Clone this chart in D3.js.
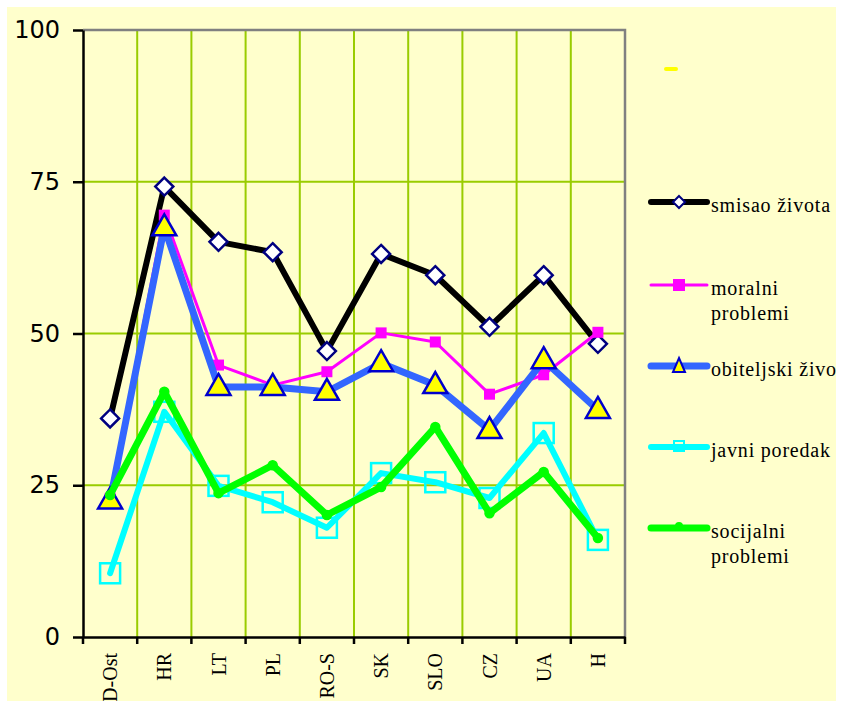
<!DOCTYPE html>
<html>
<head>
<meta charset="utf-8">
<script src="https://cdn.jsdelivr.net/npm/d3@7"></script>
<style>
  body { margin: 0; background: #fff; }
  svg { display: block; }
</style>
</head>
<body>
<svg id="chart" width="842" height="701"></svg>
<script>
// data
var categories = ['D-Ost', 'HR', 'LT', 'PL', 'RO-S', 'SK', 'SLO', 'CZ', 'UA', 'H']
var smisao = [36.0, 74.2, 65.1, 63.4, 47.1, 63.1, 59.6, 51.1, 59.6, 48.3]
var moralni = [22.8, 69.5, 44.8, 41.5, 43.7, 50.1, 48.6, 40.0, 43.2, 50.2]
var obiteljski = [22.5, 67.5, 41.2, 41.2, 40.4, 45.1, 41.5, 34.1, 45.6, 37.4]
var javni = [10.5, 37.1, 24.9, 22.2, 18.0, 27.0, 25.5, 22.9, 33.6, 16.0]
var socijalni = [23.4, 40.4, 23.7, 28.3, 20.1, 24.7, 34.6, 20.4, 27.2, 16.3]
var yTicks = [0, 25, 50, 75, 100]

var series = [
  { name: ['smisao života'], values: smisao, color: '#000000', width: 6, marker: 'diamond', ly: 202 },
  { name: ['moralni', 'problemi'], values: moralni, color: '#ff00ff', width: 3, marker: 'square', ly: 285 },
  { name: ['obiteljski život'], values: obiteljski, color: '#3366ff', width: 7, marker: 'triangle', ly: 366 },
  { name: ['javni poredak'], values: javni, color: '#00ffff', width: 6, marker: 'hollow', ly: 447 },
  { name: ['socijalni', 'problemi'], values: socijalni, color: '#00ff00', width: 7, marker: 'circle', ly: 528 }
]

var svg = d3.select('#chart')
var bg = '#ffffcc'
var grid = '#99cc00'

svg.append('rect').attr('x', 7).attr('y', 7).attr('width', 829).attr('height', 700).attr('fill', bg)

var x = d3.scaleBand().domain(categories).range([83, 625]).padding(0)
var y = d3.scaleLinear().domain([0, 100]).range([637, 30])

// grid lines
svg.append('g').selectAll('line')
  .data([25, 50, 75])
  .enter().append('line')
  .attr('x1', 83).attr('x2', 625)
  .attr('y1', (d) => y(d)).attr('y2', (d) => y(d))
  .attr('stroke', grid).attr('stroke-width', 2)

svg.append('g').selectAll('line')
  .data(categories.slice(1))
  .enter().append('line')
  .attr('x1', (d) => x(d)).attr('x2', (d) => x(d))
  .attr('y1', y(100)).attr('y2', y(0))
  .attr('stroke', grid).attr('stroke-width', 2)

// plot frame top / right
svg.append('path')
  .attr('d', 'M83,' + y(100) + 'H625V' + y(0))
  .attr('fill', 'none').attr('stroke', '#808080').attr('stroke-width', 2.5)

// y axis
var yAxis = svg.append('g')
  .attr('transform', 'translate(83,0)')
  .call(d3.axisLeft(y).tickValues(yTicks).tickSize(10).tickPadding(13).tickSizeOuter(0))
yAxis.select('.domain').attr('stroke', '#000').attr('stroke-width', 2.5)
yAxis.selectAll('.tick line').attr('stroke', '#000').attr('stroke-width', 2.5)
yAxis.selectAll('.tick text')
  .attr('font-family', 'DejaVu Sans, Verdana, sans-serif')
  .attr('font-size', 24)
  .attr('fill', '#000')

// x axis
var xAxis = svg.append('g')
  .attr('transform', 'translate(0,' + y(0) + ')')
  .call(d3.axisBottom(x).tickSize(0).tickSizeOuter(0))
xAxis.select('.domain').attr('stroke', '#000').attr('stroke-width', 2.5)
xAxis.selectAll('.tick text')
  .attr('font-family', 'Liberation Serif, Times New Roman, serif')
  .attr('font-size', 20)
  .attr('fill', '#000')
  .attr('transform', 'rotate(-90)')
  .attr('text-anchor', 'end')
  .attr('x', -16)
  .attr('y', 0)
  .attr('dy', '0.35em')

svg.append('g').selectAll('line')
  .data(categories.map((c) => x(c)).concat([x.range()[1]]))
  .enter().append('line')
  .attr('x1', (d) => d).attr('x2', (d) => d)
  .attr('y1', y(0)).attr('y2', y(0) + 7)
  .attr('stroke', '#000').attr('stroke-width', 2.5)

function drawMarker (g, s, cx, cy) {
  if (s.marker === 'diamond') {
    g.append('path')
      .attr('d', 'M' + cx + ',' + (cy - 9) + 'L' + (cx + 9) + ',' + cy + 'L' + cx + ',' + (cy + 9) + 'L' + (cx - 9) + ',' + cy + 'Z')
      .attr('fill', '#fff').attr('stroke', '#000080').attr('stroke-width', 2.5)
  } else if (s.marker === 'square') {
    g.append('rect').attr('x', cx - 5.5).attr('y', cy - 5.5).attr('width', 11).attr('height', 11)
      .attr('fill', s.color)
  } else if (s.marker === 'triangle') {
    g.append('path')
      .attr('d', 'M' + cx + ',' + (cy - 13) + 'L' + (cx + 12) + ',' + (cy + 8) + 'L' + (cx - 12) + ',' + (cy + 8) + 'Z')
      .attr('fill', '#ffff00').attr('stroke', '#0000cc').attr('stroke-width', 2.5)
  } else if (s.marker === 'hollow') {
    g.append('rect').attr('x', cx - 10).attr('y', cy - 10).attr('width', 20).attr('height', 20)
      .attr('fill', 'none').attr('stroke', s.color).attr('stroke-width', 2.5)
  } else if (s.marker === 'circle') {
    g.append('circle').attr('cx', cx).attr('cy', cy).attr('r', 4.5)
      .attr('fill', s.color).attr('stroke', s.color).attr('stroke-width', 1.5)
  }
}

var line = d3.line()
  .x((d, i) => x(categories[i]) + x.bandwidth() / 2)
  .y((d) => y(d))

series.forEach((s) => {
  var g = svg.append('g')
  g.append('path')
    .datum(s.values)
    .attr('d', line)
    .attr('fill', 'none')
    .attr('stroke', s.color)
    .attr('stroke-width', s.width)
    .attr('stroke-linejoin', 'round')
    .attr('stroke-linecap', 'round')
  s.values.forEach((v, i) => {
    drawMarker(g, s, x(categories[i]) + x.bandwidth() / 2, y(v))
  })
})

// legend
var legend = svg.append('g')
legend.append('line')
  .attr('x1', 666).attr('x2', 676).attr('y1', 69).attr('y2', 69)
  .attr('stroke', '#ffff00').attr('stroke-width', 4).attr('stroke-linecap', 'round')

series.forEach((s) => {
  var g = legend.append('g')
  g.append('line')
    .attr('x1', 651).attr('x2', 707).attr('y1', s.ly).attr('y2', s.ly)
    .attr('stroke', s.color).attr('stroke-width', s.width).attr('stroke-linecap', 'round')
  var ms = { marker: s.marker === 'hollow' ? 'legendHollow' : s.marker, color: s.color }
  if (s.marker === 'diamond') {
    g.append('path')
      .attr('d', 'M679,' + (s.ly - 6) + 'L685,' + s.ly + 'L679,' + (s.ly + 6) + 'L673,' + s.ly + 'Z')
      .attr('fill', '#fff').attr('stroke', '#000080').attr('stroke-width', 2)
  } else if (s.marker === 'triangle') {
    g.append('path')
      .attr('d', 'M679,' + (s.ly - 8) + 'L685,' + (s.ly + 6) + 'L673,' + (s.ly + 6) + 'Z')
      .attr('fill', '#ffff00').attr('stroke', '#0000cc').attr('stroke-width', 2)
  } else if (s.marker === 'hollow') {
    g.append('rect').attr('x', 674).attr('y', s.ly - 6).attr('width', 10).attr('height', 10)
      .attr('fill', 'none').attr('stroke', s.color).attr('stroke-width', 2)
  } else if (s.marker === 'square') {
    g.append('rect').attr('x', 673).attr('y', s.ly - 6).attr('width', 12).attr('height', 12)
      .attr('fill', s.color)
  } else {
    g.append('circle').attr('cx', 679).attr('cy', s.ly - 2).attr('r', 4).attr('fill', s.color)
  }
  var t = g.append('text')
    .attr('x', 711)
    .attr('y', s.ly + 10)
    .attr('font-family', 'Liberation Serif, Times New Roman, serif')
    .attr('font-size', 20)
    .attr('letter-spacing', 0.8)
    .attr('fill', '#000')
  s.name.forEach((n, i) => {
    t.append('tspan').attr('x', 711).attr('dy', i === 0 ? 0 : 25).text(n)
  })
})

// white strip on the right edge, like the picture's frame
svg.append('rect').attr('x', 836).attr('y', 0).attr('width', 6).attr('height', 701).attr('fill', '#fff')
</script>
</body>
</html>
